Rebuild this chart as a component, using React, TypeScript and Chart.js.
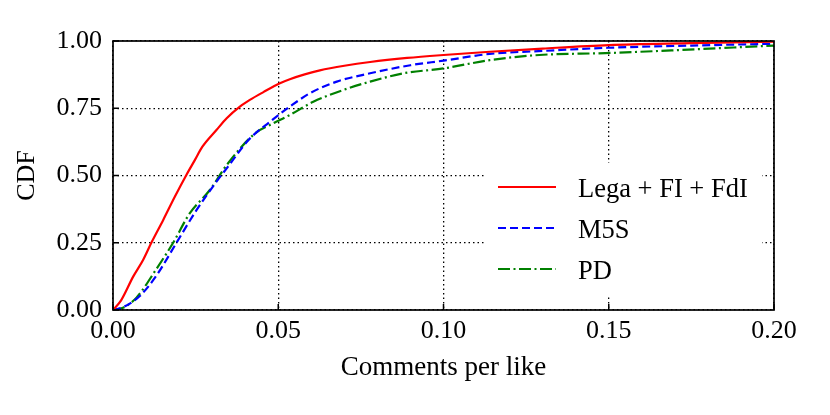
import React, { useEffect, useRef } from "react";
import { Chart, registerables } from "chart.js";
Chart.register(...registerables);

// ---- data ----
const xTicks = [0, 0.05, 0.1, 0.15, 0.2];
const yTicks = [0, 0.25, 0.5, 0.75, 1.0];
const xTitle = "Comments per like";
const yTitle = "CDF";
const seriesLabels = ["Lega + FI + FdI", "M5S", "PD"];
const seriesColors = ["#ff0000", "#0000ff", "#008000"];

const legaX = [0, 0.0025, 0.0061, 0.0091, 0.0116, 0.0152, 0.0187, 0.0222, 0.0248, 0.027, 0.0313, 0.0344, 0.0384, 0.0414, 0.0455, 0.0505, 0.0535, 0.058, 0.0626, 0.07, 0.0778, 0.089, 0.1, 0.114, 0.13, 0.15, 0.175, 0.2];
const legaY = [0, 0.037, 0.124, 0.186, 0.25, 0.335, 0.421, 0.502, 0.558, 0.606, 0.669, 0.713, 0.756, 0.781, 0.81, 0.843, 0.858, 0.876, 0.891, 0.908, 0.922, 0.937, 0.948, 0.96, 0.972, 0.985, 0.992, 0.998];

const m5sX = [0, 0.003, 0.0081, 0.0131, 0.0192, 0.0253, 0.0313, 0.0348, 0.041, 0.0475, 0.0535, 0.0596, 0.0677, 0.0778, 0.09, 0.1, 0.114, 0.13, 0.15, 0.175, 0.2];
const m5sY = [0, 0.01, 0.052, 0.127, 0.25, 0.372, 0.477, 0.533, 0.632, 0.7, 0.756, 0.806, 0.849, 0.88, 0.91, 0.927, 0.952, 0.963, 0.975, 0.983, 0.99];

const pdX = [0, 0.003, 0.0071, 0.0131, 0.0182, 0.0232, 0.0293, 0.0344, 0.043, 0.0475, 0.0535, 0.0606, 0.0697, 0.0778, 0.0879, 0.1, 0.114, 0.129, 0.149, 0.169, 0.2];
const pdY = [0, 0.008, 0.046, 0.152, 0.25, 0.359, 0.446, 0.539, 0.657, 0.688, 0.725, 0.774, 0.818, 0.849, 0.88, 0.898, 0.929, 0.948, 0.955, 0.965, 0.983];

const seriesDashes: number[][] = [[], [8, 4], [12, 3.5, 2, 3.5]];

const FONT = '"Liberation Serif", "DejaVu Serif", serif';
const W = 830;
const H = 415;

function pts(xs: number[], ys: number[]) {
  return xs.map((x, i) => ({ x, y: ys[i] }));
}

const framePlugin = {
  id: "frame",
  beforeDatasetsDraw(chart: any) {
    const { ctx, chartArea } = chart;
    ctx.save();
    ctx.fillStyle = "#ffffff";
    const bx = chartArea.right - 290;
    const by = chartArea.bottom - 147;
    ctx.fillRect(bx, by, 278, 134);
    ctx.restore();
  },
  afterDraw(chart: any) {
    const { ctx, chartArea } = chart;
    const xs = chart.scales.x;
    const ys = chart.scales.y;
    ctx.save();
    // legend entries
    const lx0 = chartArea.right - 276;
    const lx1 = lx0 + 58;
    const tx = lx0 + 80;
    const row0 = chartArea.bottom - 123;
    seriesLabels.forEach((lab, i) => {
      const yy = row0 + i * 41;
      ctx.strokeStyle = seriesColors[i];
      ctx.lineWidth = 2.2;
      ctx.setLineDash(seriesDashes[i]);
      ctx.beginPath();
      ctx.moveTo(lx0, yy);
      ctx.lineTo(lx1, yy);
      ctx.stroke();
      ctx.setLineDash([]);
      ctx.fillStyle = "#000";
      ctx.font = `26.5px ${FONT}`;
      ctx.textBaseline = "alphabetic";
      ctx.textAlign = "left";
      ctx.fillText(lab, tx, yy + 9.5);
    });
    // frame
    ctx.strokeStyle = "#000";
    ctx.lineWidth = 1.7;
    ctx.strokeRect(chartArea.left, chartArea.top, chartArea.right - chartArea.left, chartArea.bottom - chartArea.top);
    // inward ticks
    ctx.lineWidth = 1.5;
    xTicks.forEach((v) => {
      const px = xs.getPixelForValue(v);
      ctx.beginPath();
      ctx.moveTo(px, chartArea.bottom);
      ctx.lineTo(px, chartArea.bottom - 6);
      ctx.stroke();
    });
    yTicks.forEach((v) => {
      const py = ys.getPixelForValue(v);
      ctx.beginPath();
      ctx.moveTo(chartArea.left, py);
      ctx.lineTo(chartArea.left + 6, py);
      ctx.stroke();
    });
    ctx.restore();
  },
};

export default function App() {
  const ref = useRef<HTMLCanvasElement | null>(null);
  useEffect(() => {
    document.body.style.margin = "0";
    const canvas = ref.current!;
    Chart.defaults.font.family = FONT;
    const chart = new Chart(canvas, {
      type: "line",
      data: {
        datasets: [
          { label: seriesLabels[0], data: pts(legaX, legaY), borderColor: seriesColors[0], borderDash: seriesDashes[0] },
          { label: seriesLabels[1], data: pts(m5sX, m5sY), borderColor: seriesColors[1], borderDash: seriesDashes[1] },
          { label: seriesLabels[2], data: pts(pdX, pdY), borderColor: seriesColors[2], borderDash: seriesDashes[2] },
        ].map((d) => ({ ...d, borderWidth: 2.2, pointRadius: 0, fill: false, cubicInterpolationMode: "monotone" })),
      },
      options: {
        responsive: false,
        animation: false,
        devicePixelRatio: 1,
        layout: { padding: { top: 41, right: 56, left: 0, bottom: 0 } },
        plugins: { legend: { display: false }, tooltip: { enabled: false } },
        scales: {
          x: {
            type: "linear",
            min: 0,
            max: 0.2,
            afterBuildTicks: (s: any) => {
              s.ticks = xTicks.map((v) => ({ value: v }));
            },
            afterFit: (s: any) => {
              s.height = 105;
            },
            ticks: {
              color: "#000",
              font: { size: 26, family: FONT },
              padding: 6,
              maxRotation: 0,
              autoSkip: false,
              callback: (v: any) => Number(v).toFixed(2),
            },
            grid: { color: "#000", lineWidth: 1.3, drawTicks: false },
            border: { display: false, dash: [1.5, 3] },
            title: {
              display: true,
              text: xTitle,
              color: "#000",
              font: { size: 27, family: FONT },
              padding: { top: 0, bottom: 31 },
            },
          },
          y: {
            type: "linear",
            min: 0,
            max: 1,
            afterBuildTicks: (s: any) => {
              s.ticks = yTicks.map((v) => ({ value: v }));
            },
            afterFit: (s: any) => {
              s.width = 113;
            },
            ticks: {
              color: "#000",
              font: { size: 26, family: FONT },
              padding: 11,
              autoSkip: false,
              callback: (v: any) => Number(v).toFixed(2),
            },
            grid: { color: "#000", lineWidth: 1.3, drawTicks: false },
            border: { display: false, dash: [1.5, 3] },
            title: {
              display: true,
              text: yTitle,
              color: "#000",
              font: { size: 26, family: FONT },
              padding: { top: 12, bottom: 0 },
            },
          },
        },
      },
      plugins: [framePlugin],
    } as any);
    return () => chart.destroy();
  }, []);
  return (
    <div style={{ position: "absolute", left: 0, top: 0, width: W, height: H, background: "#fff" }}>
      <canvas ref={ref} width={W} height={H} style={{ width: W, height: H, display: "block" }} />
    </div>
  );
}
